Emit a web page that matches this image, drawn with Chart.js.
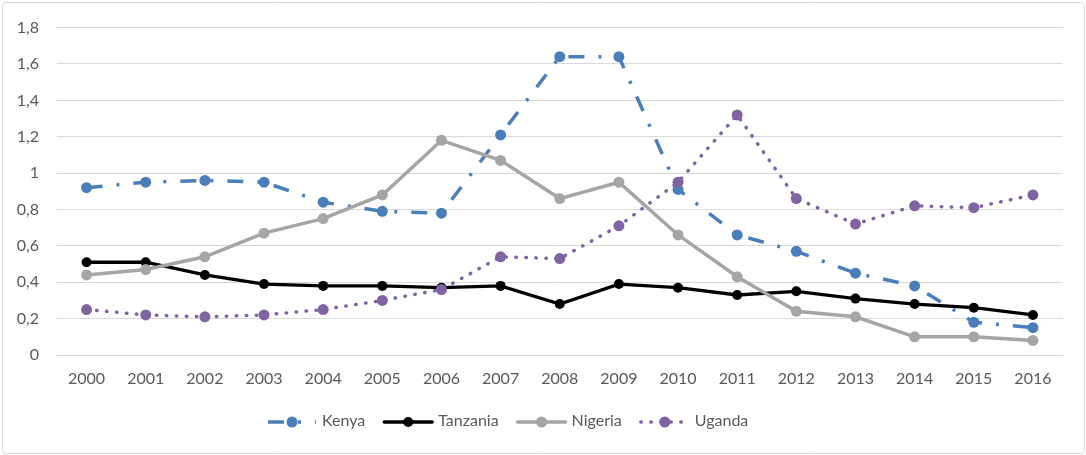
<!DOCTYPE html>
<html>
<head>
<meta charset="utf-8">
<script src="https://cdn.jsdelivr.net/npm/chart.js@4/dist/chart.umd.min.js"></script>
<style>
  html, body { margin: 0; padding: 0; background: #fff; }
  #wrap { width: 1086px; height: 455px; position: relative; }
</style>
</head>
<body>
<div id="wrap"><canvas id="c" width="1086" height="455"></canvas></div>
<script>
// Categories and series
const years = ['2000','2001','2002','2003','2004','2005','2006','2007','2008','2009','2010','2011','2012','2013','2014','2015','2016'];
const kenya    = [0.92, 0.95, 0.96, 0.95, 0.84, 0.79, 0.78, 1.21, 1.64, 1.64, 0.91, 0.66, 0.57, 0.45, 0.38, 0.18, 0.15];
const tanzania = [0.51, 0.51, 0.44, 0.39, 0.38, 0.38, 0.37, 0.38, 0.28, 0.39, 0.37, 0.33, 0.35, 0.31, 0.28, 0.26, 0.22];
const nigeria  = [0.44, 0.47, 0.54, 0.67, 0.75, 0.88, 1.18, 1.07, 0.86, 0.95, 0.66, 0.43, 0.24, 0.21, 0.10, 0.10, 0.08];
const uganda   = [0.25, 0.22, 0.21, 0.22, 0.25, 0.30, 0.36, 0.54, 0.53, 0.71, 0.95, 1.32, 0.86, 0.72, 0.82, 0.81, 0.88];
const seriesNames = ['Kenya', 'Tanzania', 'Nigeria', 'Uganda'];
const yTickLabels = ['0', '0,2', '0,4', '0,6', '0,8', '1', '1,2', '1,4', '1,6', '1,8'];

const FONT = 'Lato';
const TEXT = '#595959';

// White background and light outer frame
const framePlugin = {
  id: 'frame',
  beforeDraw(chart) {
    const ctx = chart.ctx;
    ctx.save();
    ctx.fillStyle = '#ffffff';
    ctx.fillRect(0, 0, chart.width, chart.height);
    ctx.strokeStyle = '#d9d9d9';
    ctx.lineWidth = 1;
    ctx.beginPath();
    ctx.roundRect(2.5, 2.5, chart.width - 4, chart.height - 4, 3);
    ctx.stroke();
    ctx.restore();
  }
};

// Legend with a short line sample and marker for each series
const lineLegend = {
  id: 'lineLegend',
  afterDraw(chart) {
    const ctx = chart.ctx;
    ctx.save();
    ctx.font = '16px ' + FONT;
    ctx.textBaseline = 'middle';
    let x = 268;
    const y = 422;
    const sampleW = 48;
    chart.data.datasets.forEach(ds => {
      ctx.strokeStyle = ds.borderColor;
      ctx.lineWidth = ds.borderWidth;
      ctx.lineCap = ds.borderCapStyle || 'butt';
      ctx.setLineDash(ds.borderDash || []);
      ctx.beginPath();
      ctx.moveTo(x, y);
      ctx.lineTo(x + sampleW, y);
      ctx.stroke();
      ctx.setLineDash([]);
      ctx.fillStyle = ds.pointBackgroundColor;
      ctx.beginPath();
      ctx.arc(x + sampleW / 2, y, ds.pointRadius, 0, Math.PI * 2);
      ctx.fill();
      ctx.fillStyle = TEXT;
      ctx.fillText(ds.label, x + sampleW + 6, y - 1);
      x += sampleW + 6 + ctx.measureText(ds.label).width + 19;
    });
    ctx.restore();
  }
};

const colors = ['#4a7ebb', '#000000', '#a5a5a5', '#8064a2'];

new Chart(document.getElementById('c'), {
  type: 'line',
  data: {
    labels: years,
    datasets: [
      {
        label: seriesNames[0], data: kenya, order: 4,
        borderColor: colors[0], borderWidth: 3.5, borderDash: [16, 14, 3, 14], borderCapStyle: 'butt',
        pointRadius: 5.5, pointBackgroundColor: colors[0], pointBorderWidth: 0
      },
      {
        label: seriesNames[1], data: tanzania, order: 3,
        borderColor: colors[1], borderWidth: 3.3, borderCapStyle: 'round',
        pointRadius: 5, pointBackgroundColor: colors[1], pointBorderWidth: 0
      },
      {
        label: seriesNames[2], data: nigeria, order: 2,
        borderColor: colors[2], borderWidth: 3.5, borderCapStyle: 'round',
        pointRadius: 5.5, pointBackgroundColor: colors[2], pointBorderWidth: 0
      },
      {
        label: seriesNames[3], data: uganda, order: 1,
        borderColor: colors[3], borderWidth: 3.5, borderDash: [0.5, 9.5], borderCapStyle: 'round',
        pointRadius: 5.5, pointBackgroundColor: colors[3], pointBorderWidth: 0
      }
    ]
  },
  options: {
    responsive: false,
    animation: false,
    devicePixelRatio: 1,
    layout: { padding: { left: 0, right: 23.5, top: 21.7, bottom: 60 } },
    plugins: {
      legend: { display: false },
      tooltip: { enabled: false }
    },
    elements: { line: { tension: 0, fill: false } },
    scales: {
      x: {
        offset: true,
        grid: { display: false, drawTicks: false },
        border: { display: false },
        ticks: { color: TEXT, font: { family: FONT, size: 16 }, padding: 14, maxRotation: 0, autoSkip: false },
        afterFit(s) { s.height = 40; }
      },
      y: {
        min: 0, max: 1.8,
        grid: { color: '#d9d9d9', lineWidth: 1, drawTicks: false },
        border: { display: false },
        ticks: {
          stepSize: 0.2, color: TEXT, font: { family: FONT, size: 16 }, padding: 18,
          callback: (v) => yTickLabels[Math.round(v / 0.2)]
        },
        afterFit(s) { s.width = 57; }
      }
    }
  },
  plugins: [framePlugin, lineLegend]
});
</script>
</body>
</html>
